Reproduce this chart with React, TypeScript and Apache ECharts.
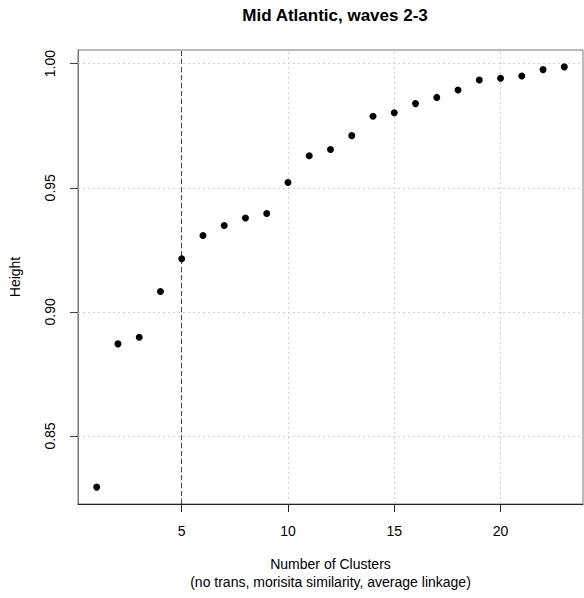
import React, { useEffect, useRef } from "react";
import * as echarts from "echarts";

const clusters = [1, 2, 3, 4, 5, 6, 7, 8, 9, 10, 11, 12, 13, 14, 15, 16, 17, 18, 19, 20, 21, 22, 23];
const heights = [
  0.8294, 0.8871, 0.8898, 0.9082, 0.9214, 0.9308, 0.9348, 0.9378, 0.9396, 0.9521,
  0.9629, 0.9654, 0.971, 0.9788, 0.9802, 0.9839, 0.9864, 0.9894, 0.9934, 0.9941,
  0.995, 0.9976, 0.9987,
];
const xTicks = [5, 10, 15, 20];
const yTicks = [0.85, 0.9, 0.95, 1.0];
const yTickLabels = ["0.85", "0.90", "0.95", "1.00"];
const chosenK = 5;
const titleText = "Mid Atlantic, waves 2-3";
const xTitle = "Number of Clusters\n(no trans, morisita similarity, average linkage)";
const yTitle = "Height";

const FONT = "'Liberation Sans', Arial, sans-serif";

export default function App() {
  const ref = useRef<HTMLDivElement>(null);
  useEffect(() => {
    if (!ref.current) return;
    const chart = echarts.init(ref.current, null, { renderer: "svg" });
    const gridStyle = { color: "#cfcfcf", type: [2, 3] as any, width: 1 };
    chart.setOption({
      animation: false,
      textStyle: { fontFamily: FONT },
      title: {
        text: titleText,
        left: 330,
        top: 2,
        textAlign: "center",
        textStyle: { fontFamily: FONT, fontWeight: "bold", fontSize: 17, color: "#000" },
      },
      grid: {
        left: 77,
        right: 1,
        top: 50,
        bottom: 94,
        show: true,
        borderColor: "#777",
        borderWidth: 1,
        backgroundColor: "transparent",
      },
      xAxis: {
        type: "value",
        min: 0.12,
        max: 23.88,
        name: xTitle,
        nameLocation: "middle",
        nameGap: 51,
        nameTextStyle: { fontFamily: FONT, fontSize: 14, color: "#000", lineHeight: 18, verticalAlign: "top" },
        axisLine: { show: true, onZero: false, lineStyle: { color: "#222", width: 1 } },
        axisTick: { show: true, length: 8, customValues: xTicks, lineStyle: { color: "#222" } },
        axisLabel: {
          customValues: xTicks,
          margin: 20,
          fontFamily: FONT,
          fontSize: 14,
          color: "#000",
        },
        splitLine: { show: false },
      },
      yAxis: {
        type: "value",
        min: 0.8226,
        max: 1.0055,
        name: yTitle,
        nameLocation: "middle",
        nameGap: 56,
        nameRotate: 90,
        nameTextStyle: { fontFamily: FONT, fontSize: 14, color: "#000" },
        axisLine: { show: true, onZero: false, lineStyle: { color: "#777", width: 1 } },
        axisTick: { show: true, length: 8, customValues: yTicks, lineStyle: { color: "#444" } },
        axisLabel: {
          customValues: yTicks,
          rotate: 90,
          margin: 21,
          fontFamily: FONT,
          fontSize: 14,
          color: "#000",
          formatter: (v: number) => {
            const i = yTicks.findIndex((t) => Math.abs(t - v) < 1e-9);
            return i >= 0 ? yTickLabels[i] : "";
          },
        },
        splitLine: { show: false },
      },
      series: [
        {
          type: "scatter",
          data: clusters.map((c, i) => [c, heights[i]]),
          symbol: "circle",
          symbolSize: 7,
          itemStyle: { color: "#000", opacity: 1 },
          z: 5,
          markLine: {
            silent: true,
            symbol: "none",
            label: { show: false },
            animation: false,
            data: [
              ...xTicks.map((x) => ({ xAxis: x, lineStyle: gridStyle })),
              ...yTicks.map((y) => ({ yAxis: y, lineStyle: gridStyle })),
              { xAxis: chosenK, lineStyle: { color: "#444", type: [5, 3] as any, width: 1 } },
            ],
          },
        },
      ],
    });
    return () => chart.dispose();
  }, []);
  return (
    <div
      ref={ref}
      style={{ position: "fixed", left: 0, top: 0, width: 584, height: 598, background: "#fff" }}
    />
  );
}
